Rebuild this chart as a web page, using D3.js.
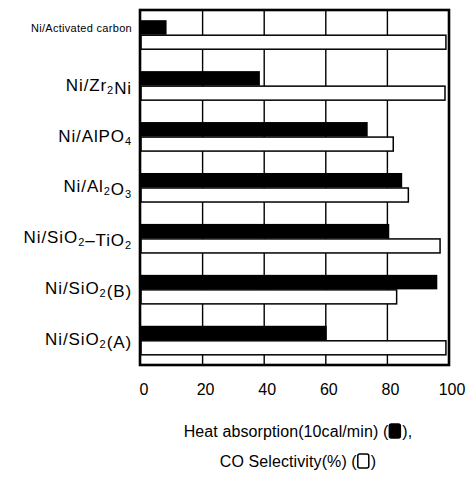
<!DOCTYPE html>
<html>
<head>
<meta charset="utf-8">
<script src="https://cdn.jsdelivr.net/npm/d3@7"></script>
<style>
  body { margin: 0; background: #fff; }
  svg { display: block; }
  text { font-family: "Liberation Sans", Arial, sans-serif; fill: #000; }
</style>
</head>
<body>
<div id="chart"></div>
<script>
// Data
var catalysts = ["Ni/Activated carbon", "Ni/Zr2Ni", "Ni/AlPO4", "Ni/Al2O3",
                 "Ni/SiO2\u2013TiO2", "Ni/SiO2(B)", "Ni/SiO2(A)"];
var heatAbsorption = [8.3, 38.6, 73.6, 84.8, 80.6, 96.2, 60.3];   // 10cal/min
var coSelectivity  = [99.0, 98.7, 81.9, 86.8, 97.1, 83.0, 99.0];   // %
var xTicks = [0, 20, 40, 60, 80, 100];
var legendLines = [
  ["Heat absorption(10cal/min) (", "),", "#000"],
  ["CO Selectivity(%) (", ")", "#fff"]
];

var width = 470, height = 478;
var svg = d3.select("#chart").append("svg")
    .attr("width", width)
    .attr("height", height);

// Scales
var x = d3.scaleLinear().domain([0, 100]).range([141, 449]);
var y = d3.scaleBand().domain(catalysts).range([10, 365])
    .paddingInner(0.43).paddingOuter(0.2);
var sub = d3.scaleBand().domain(["heat", "co"]).range([0, y.bandwidth()]);

// Grid lines
svg.append("g").selectAll("line")
    .data(xTicks.slice(1, -1))
  .enter().append("line")
    .attr("x1", function(d) { return x(d); })
    .attr("x2", function(d) { return x(d); })
    .attr("y1", 10)
    .attr("y2", 365)
    .attr("stroke", "#000")
    .attr("stroke-width", 1.4);

// Bars
var rows = svg.append("g").selectAll("g")
    .data(catalysts)
  .enter().append("g")
    .attr("transform", function(d) { return "translate(0," + y(d) + ")"; });

rows.append("rect")
    .attr("x", x(0))
    .attr("y", sub("heat"))
    .attr("width", function(d, i) { return x(heatAbsorption[i]) - x(0); })
    .attr("height", sub.bandwidth())
    .attr("fill", "#000");

rows.append("rect")
    .attr("x", x(0))
    .attr("y", sub("co") + 0.5)
    .attr("width", function(d, i) { return x(coSelectivity[i]) - x(0); })
    .attr("height", sub.bandwidth() - 0.5)
    .attr("fill", "#fff")
    .attr("stroke", "#000")
    .attr("stroke-width", 1.5);

// Category labels, digits set as subscripts
rows.append("text")
    .attr("x", 132)
    .attr("y", function(d, i) { return i === 0 ? y.bandwidth() / 2 - 3 : y.bandwidth() / 2 + 5; })
    .attr("text-anchor", "end")
    .style("font-size", function(d, i) { return i === 0 ? "11px" : "17px"; })
    .style("letter-spacing", function(d, i) { return i === 0 ? "0.3px" : "0.9px"; })
    .each(function(d) {
      var t = d3.select(this);
      var parts = d.split(/(\d)/);
      parts.forEach(function(p) {
        if (p === "") return;
        if (/\d/.test(p)) {
          t.append("tspan").attr("dy", 3).style("font-size", "11px").text(p);
          t.append("tspan").attr("dy", -3).text("");
        } else {
          t.append("tspan").text(p);
        }
      });
    });

// Frame
svg.append("rect")
    .attr("x", x(0) - 1)
    .attr("y", 10)
    .attr("width", x(100) - x(0) + 1)
    .attr("height", 355)
    .attr("fill", "none")
    .attr("stroke", "#000")
    .attr("stroke-width", 2.6);

// X axis labels
svg.append("g").selectAll("text")
    .data(xTicks)
  .enter().append("text")
    .attr("x", function(d) { return x(d) + 3; })
    .attr("y", 395)
    .attr("text-anchor", "middle")
    .style("font-size", "16px")
    .text(function(d) { return d; });

// Legend
legendLines.forEach(function(line, i) {
  var g = svg.append("g");
  var t1 = g.append("text")
      .attr("x", 0).attr("y", 0)
      .style("font-size", "16px")
      .style("letter-spacing", "0.1px")
      .text(line[0]);
  var w1 = t1.node().getComputedTextLength();
  g.append("rect")
      .attr("x", w1 + 1)
      .attr("y", -13)
      .attr("width", 11)
      .attr("height", 14)
      .attr("rx", 2)
      .attr("fill", line[2])
      .attr("stroke", "#000")
      .attr("stroke-width", 1.5);
  var t2 = g.append("text")
      .attr("x", w1 + 14).attr("y", 0)
      .style("font-size", "16px")
      .style("letter-spacing", "0.1px")
      .text(line[1]);
  var total = w1 + 14 + t2.node().getComputedTextLength();
  g.attr("transform", "translate(" + (298 - total / 2) + "," + (437 + i * 30) + ")");
});
</script>
</body>
</html>
